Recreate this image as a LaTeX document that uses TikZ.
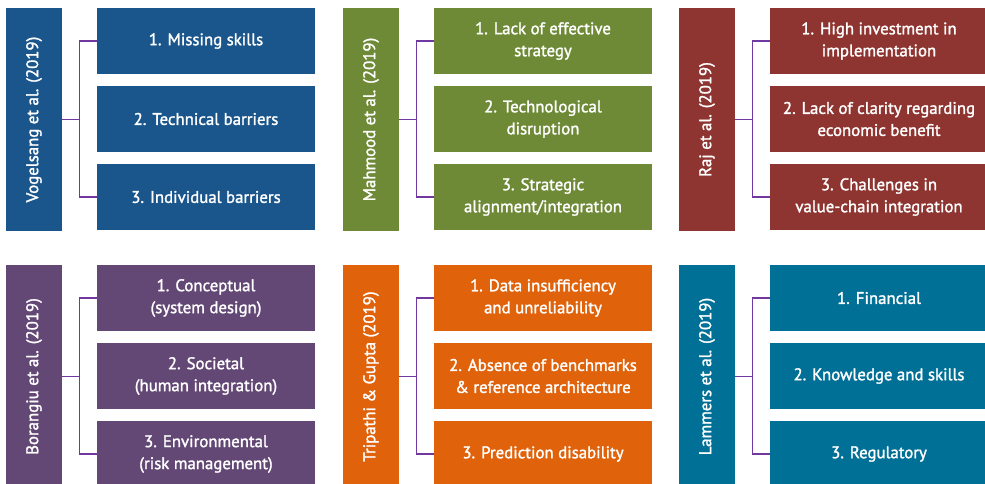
\documentclass[tikz,border=0pt]{standalone}
\usepackage{fontspec}
\newfontfamily\labelface[FakeBold=1.6]{PT Sans}
\usetikzlibrary{calc}

\definecolor{cblue}{HTML}{1A568C}
\definecolor{cgreen}{HTML}{6F8A37}
\definecolor{cred}{HTML}{8E3531}
\definecolor{cpurple}{HTML}{634775}
\definecolor{corange}{HTML}{E0620B}
\definecolor{cteal}{HTML}{007096}
\definecolor{cline}{HTML}{7038A0}

\tikzset{
  labelfont/.style={font=\labelface\fontsize{16.8}{22}\selectfont},
  authorbox/.style={fill=#1, anchor=north west, inner sep=0pt, outer sep=0pt,
    minimum width=56pt, minimum height=223pt},
  itembox/.style={fill=#1, text=white, anchor=north west, inner sep=0pt, outer sep=0pt,
    minimum width=218pt, minimum height=66pt, align=center, labelfont},
  conn/.style={draw=cline, line width=1.3pt},
}

% #1 prefix, #2 x, #3 y, #4 colour, #5 author, #6-#8 the three items
\newcommand\barriergroup[8]{%
  \node[authorbox=#4] (#1v) at (#2,#3) {};
  \node[text=white, rotate=90, labelfont] (#1t) at (#1v.center) {#5};
  \node[itembox=#4] (#1a) at (#2+91,#3) {#6};
  \node[itembox=#4] (#1b) at (#2+91,#3+78) {#7};
  \node[itembox=#4] (#1c) at (#2+91,#3+156) {#8};
  \coordinate (#1j) at ($(#1v.east)!0.5!(#1a.west)$);
  \draw[conn] (#1v.east) -- (#1v.east -| #1j);
  \draw[conn] (#1a.west) -| (#1j) |- (#1c.west);
}

\begin{document}
\begin{tikzpicture}[x=1pt, y=-1pt]
  \useasboundingbox (0,0) rectangle (985,483);

  \barriergroup{g1}{6}{8}{cblue}{Vogelsang et al. (2019)}
    {1. Missing skills}{2. Technical barriers}{3. Individual barriers}
  \barriergroup{g2}{343}{8}{cgreen}{Mahmood et al. (2019)}
    {1. Lack of effective\\strategy}{2. Technological\\disruption}{3. Strategic\\alignment/integration}
  \barriergroup{g3}{679}{8}{cred}{Raj et al. (2019)}
    {1. High investment in\\implementation}{2. Lack of clarity regarding\\economic benefit}{3. Challenges in\\value-chain integration}

  \barriergroup{g4}{6}{265}{cpurple}{Borangiu et al. (2019)}
    {1. Conceptual\\(system design)}{2. Societal\\(human integration)}{3. Environmental\\(risk management)}
  \barriergroup{g5}{343}{265}{corange}{Tripathi \& Gupta (2019)}
    {1. Data insufficiency\\and unreliability}{2. Absence of benchmarks\\\& reference architecture}{3. Prediction disability}
  \barriergroup{g6}{679}{265}{cteal}{Lammers et al. (2019)}
    {1. Financial}{2. Knowledge and skills}{3. Regulatory}
\end{tikzpicture}
\end{document}
